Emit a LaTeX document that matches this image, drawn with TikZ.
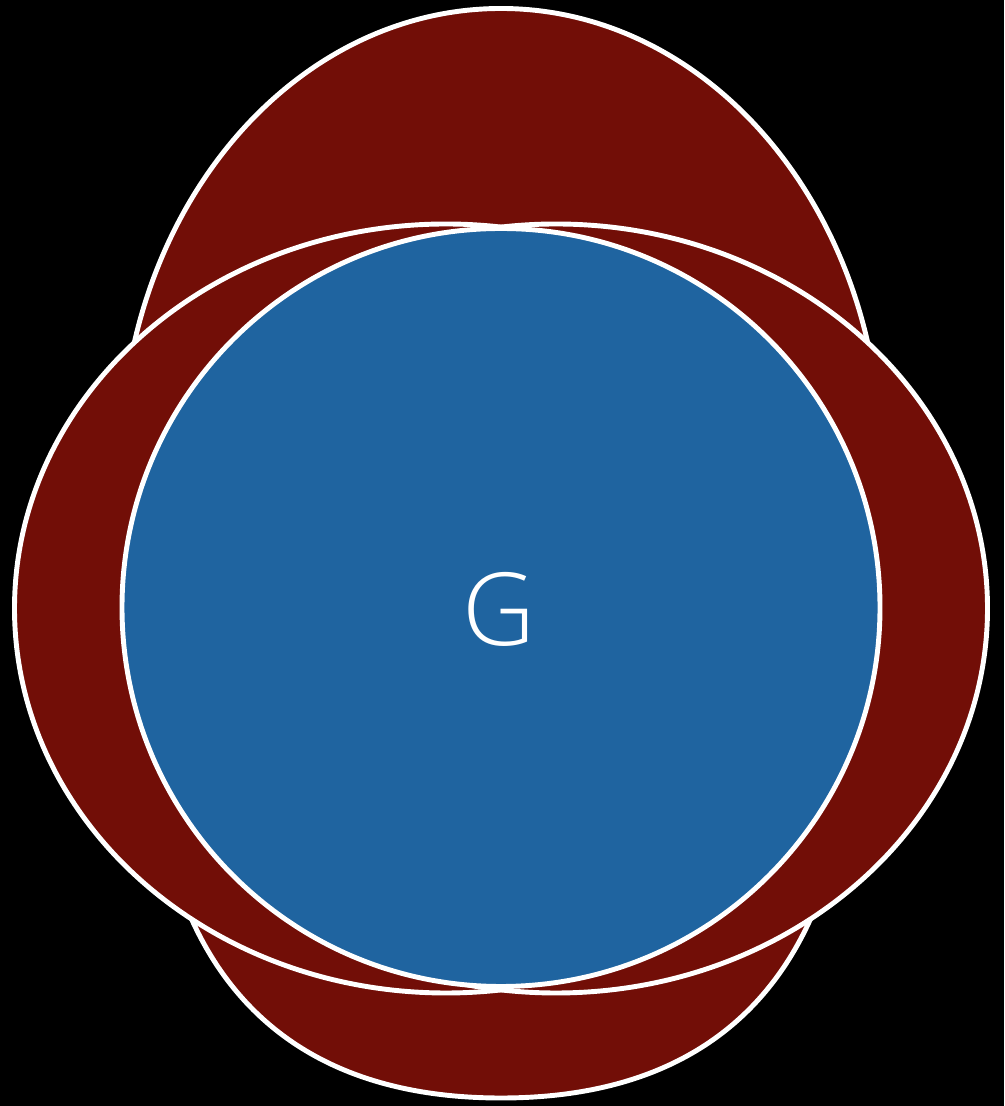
\documentclass[tikz,border=0pt]{standalone}
\usepackage{fontspec}
\usepackage{xcolor}
\usepackage{tikz}
\usetikzlibrary{shapes.geometric}
\newfontfamily\labelfont{Open Sans Light}
\definecolor{lobered}{HTML}{720E07}
\definecolor{coreblue}{HTML}{1F64A0}

\begin{document}
\begin{tikzpicture}[
		outline/.style={
			draw=white,
			fill=lobered,
			line width=1.4pt
		},
		lobe/.style={
			outline,
			ellipse,
			inner sep=0pt,
			outer sep=0pt,
			minimum width=8.63cm,
			minimum height=7.69cm
		},
		core/.style={
			circle,
			draw=white,
			fill=coreblue,
			line width=1.4pt,
			inner sep=0pt,
			outer sep=0pt,
			minimum size=7.58cm
		},
		tag/.style={
			text=white,
			font=\labelfont\fontsize{28.7}{30}\selectfont
		}
		]
		\fill[black] (0,0) rectangle (10.04,11.06);
		\useasboundingbox (0,0) rectangle (10.04,11.06);
		\draw[outline] (1.21,6.44) arc[start angle=180, end angle=0, x radius=3.80, y radius=4.535]
			-- (8.51,4.06) .. controls (8.51,1.86) and (7.61,0.08) .. (5.01,0.08)
			.. controls (2.41,0.08) and (1.51,1.86) .. (1.51,4.06) -- cycle;
		\node[lobe] (wideleft) at (4.46,4.975) {};
		\node[lobe] (wideright) at (5.56,4.975) {};
		\node[core] (g) at (5.01,4.985) {};
		\node[tag] (glabel) at (4.985,4.965) {G};
	\end{tikzpicture}
\end{document}
